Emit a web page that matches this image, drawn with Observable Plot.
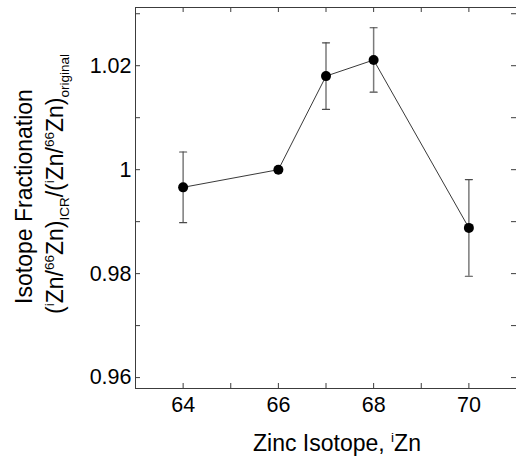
<!DOCTYPE html>
<html>
<head>
<meta charset="utf-8">
<script src="https://cdn.jsdelivr.net/npm/d3@7"></script>
<script src="https://cdn.jsdelivr.net/npm/@observablehq/plot@0.6"></script>
<style>
  html, body { margin: 0; padding: 0; background: white; }
  #chart svg { display: block; }
</style>
</head>
<body>
<div id="chart"></div>
<script>
// ---- data ----
const isotopes = [64, 66, 67, 68, 70];
const fractionation = [0.9966, 1.0000, 1.0180, 1.0211, 0.9888];
const errors = [0.0068, 0, 0.0064, 0.0062, 0.0093];

const xTickLabels = [64, 66, 68, 70];
const xMinorTicks = [64, 65, 66, 67, 68, 69, 70];
const yTickLabels = [0.96, 0.98, 1, 1.02];
const yMinorTicks = [0.96, 0.97, 0.98, 0.99, 1, 1.01, 1.02, 1.03];

const xDomain = [63, 71];
const yDomain = [0.9579, 1.0312];

const data = isotopes.map((x, i) => ({x, y: fractionation[i], lo: fractionation[i] - errors[i], hi: fractionation[i] + errors[i], e: errors[i]}));
const errData = data.filter(d => d.e > 0);

// ---- layout ----
const W = 516, H = 461;
const mL = 135, mR = 0, mT = 7, mB = 73;
const innerW = W - mL - mR, innerH = H - mT - mB;
const tickLen = 5;
const font = "'Liberation Sans', Arial, Helvetica, sans-serif";
const axisColor = "#3c3c3c";

const capShape = {draw(ctx, l) { ctx.moveTo(-l / 2, 0); ctx.lineTo(l / 2, 0); }};

const chart = Plot.plot({
  width: W, height: H,
  marginLeft: mL, marginRight: mR, marginTop: mT, marginBottom: mB,
  x: {domain: xDomain},
  y: {domain: yDomain},
  style: {fontFamily: font, fontSize: "21.5px", color: "black", background: "white", overflow: "visible"},
  marks: [
    // box spines (left, top, bottom; right lies at the image edge)
    Plot.ruleX([xDomain[0]], {stroke: axisColor}),
    Plot.ruleY(yDomain, {stroke: axisColor}),
    // inward tick marks
    Plot.ruleX(xMinorTicks, {stroke: axisColor, insetTop: innerH - tickLen}),
    Plot.ruleX(xMinorTicks, {stroke: axisColor, insetBottom: innerH - tickLen}),
    Plot.ruleY(yMinorTicks, {stroke: axisColor, insetRight: innerW - tickLen}),
    Plot.ruleY(yMinorTicks, {stroke: axisColor, insetLeft: innerW - tickLen}),
    // tick labels
    Plot.axisX(xTickLabels, {tickSize: 0, tickPadding: 8, label: null, fontSize: 21.5}),
    Plot.axisY(yTickLabels, {tickSize: 0, tickPadding: 4, label: null, fontSize: 21.5, tickFormat: d => String(d)}),
    // error bars
    Plot.ruleX(errData, {x: "x", y1: "lo", y2: "hi", stroke: "#7a7a7a", strokeWidth: 1.5}),
    Plot.vector(errData, {x: "x", y: "hi", length: 7, anchor: "start", shape: capShape, stroke: "#4a4a4a", strokeWidth: 1.2}),
    Plot.vector(errData, {x: "x", y: "lo", length: 7, anchor: "start", shape: capShape, stroke: "#4a4a4a", strokeWidth: 1.2}),
    // line + points
    Plot.line(data, {x: "x", y: "y", stroke: "#222", strokeWidth: 0.9}),
    Plot.dot(data, {x: "x", y: "y", r: 5, fill: "black", stroke: "none"})
  ]
});

document.getElementById("chart").appendChild(chart);

// ---- axis titles (with sub/superscripts) ----
const svg = d3.select(chart);
const supSize = 13.5, shift = 9;

// x title
const xt = svg.append("text")
  .attr("x", 337).attr("y", 451)
  .attr("text-anchor", "middle")
  .attr("font-family", font).attr("font-size", 23).attr("fill", "black");
xt.append("tspan").text("Zinc Isotope, ");
xt.append("tspan").attr("font-size", supSize).attr("dy", -shift).text("i");
xt.append("tspan").attr("dy", shift).text("Zn");

// y title line 1
svg.append("text")
  .attr("transform", "translate(32,196.5) rotate(-90)")
  .attr("text-anchor", "middle")
  .attr("font-family", font).attr("font-size", 23).attr("fill", "black")
  .text("Isotope Fractionation");

// y title line 2
const yt = svg.append("text")
  .attr("transform", "translate(63,184) rotate(-90)")
  .attr("text-anchor", "middle")
  .attr("font-family", font).attr("font-size", 23).attr("fill", "black");
const parts = [
  ["(", 0], ["i", 1], ["Zn/", 0], ["66", 1], ["Zn)", 0], ["ICR", -1],
  ["/(", 0], ["i", 1], ["Zn/", 0], ["66", 1], ["Zn)", 0], ["original", -1]
];
let cur = 0;
for (const [t, lvl] of parts) {
  const target = lvl === 1 ? -shift : lvl === -1 ? 6 : 0;
  const ts = yt.append("tspan").attr("dy", target - cur).text(t);
  if (lvl !== 0) ts.attr("font-size", supSize);
  cur = target;
}
</script>
</body>
</html>
